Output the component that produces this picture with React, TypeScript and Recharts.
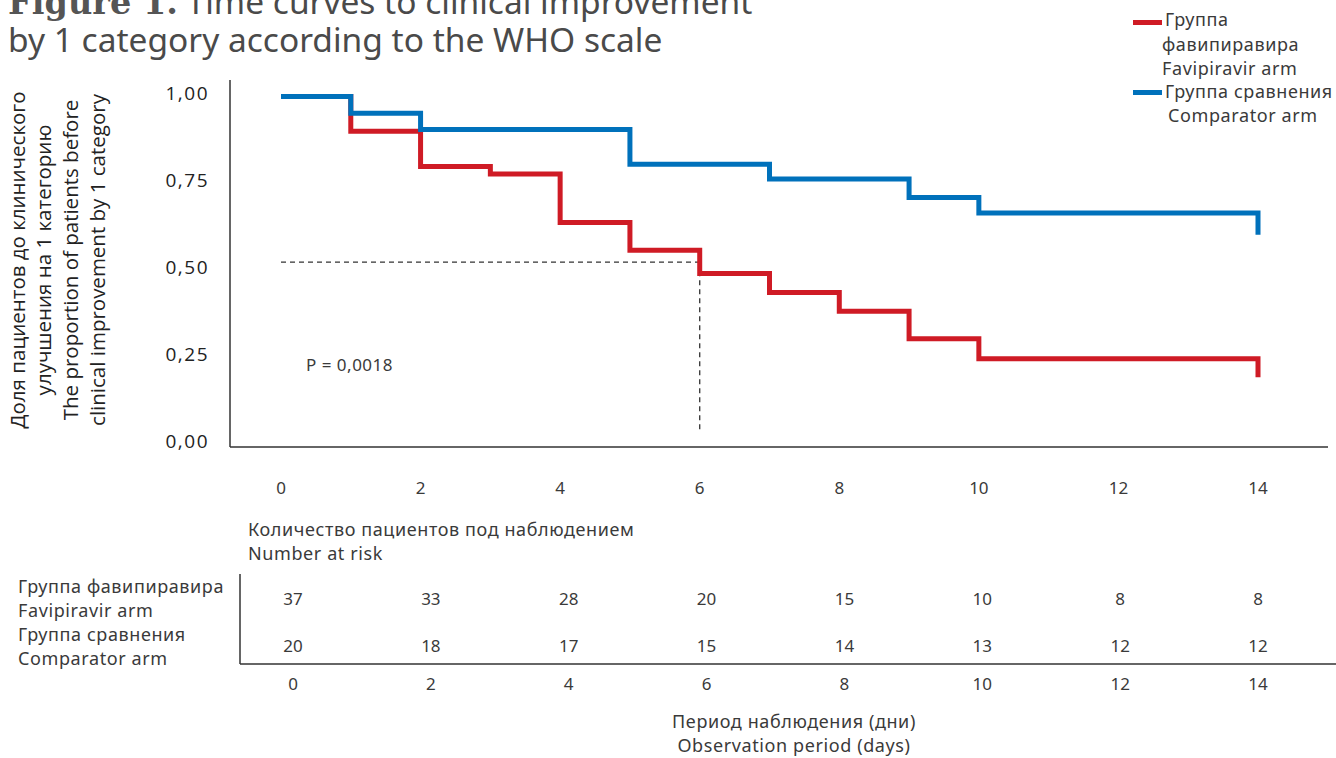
import { LineChart, Line, XAxis, YAxis, ReferenceLine, ScatterChart, Scatter } from 'recharts'

// days on the axis and the number-at-risk table
const dayTicks = [0, 2, 4, 6, 8, 10, 12, 14]
const yTicks = [0, 0.25, 0.5, 0.75, 1]

// Kaplan-Meier steps
const favDays = [0, 1, 2, 3, 4, 5, 6, 7, 8, 9, 10, 14]
const favValues = [0.99, 0.89, 0.789, 0.767, 0.628, 0.548, 0.481, 0.427, 0.373, 0.294, 0.236, 0.183]
const compDays = [0, 1, 2, 5, 7, 9, 10, 14]
const compValues = [0.99, 0.942, 0.895, 0.795, 0.753, 0.7, 0.655, 0.593]

// median marker (dashed guide)
const medianDay = 6
const medianValue = 0.514
const guideBottom = 0.029
const pLabel = 'P = 0,0018'

// number at risk
const arms = ['fav', 'comp']
const armLabels: Record<string, string[]> = {
  fav: ['Группа фавипиравира', 'Favipiravir arm'],
  comp: ['Группа сравнения', 'Comparator arm'],
}
const favAtRisk = [37, 33, 28, 20, 15, 10, 8, 8]
const compAtRisk = [20, 18, 17, 15, 14, 13, 12, 12]

const RED = '#cf1b25'
const BLUE = '#0071bb'
const TEXT = '#3a3a3a'
const FONT = '"Noto Sans", sans-serif'

const favData = favDays.map((d, i) => ({ day: d, value: favValues[i] }))
const compData = compDays.map((d, i) => ({ day: d, value: compValues[i] }))
const favRisk = dayTicks.map((d, i) => ({ day: d, n: favAtRisk[i], arm: arms[0] }))
const compRisk = dayTicks.map((d, i) => ({ day: d, n: compAtRisk[i], arm: arms[1] }))

const fmt = (v: number) => v.toFixed(2).replace('.', ',')

const YTick = ({ x, y, payload }: any) => (
  <text x={x} y={y} dy="0.35em" textAnchor="end" fill="#222" fontSize={19}
    fontFamily='"Open Sans", sans-serif' letterSpacing={1.5}>
    {fmt(payload.value)}
  </text>
)

const XTick = ({ x, y, payload }: any) => (
  <text x={x} y={y} dy="0.35em" textAnchor="middle" fill={TEXT} fontSize={17} fontFamily={FONT}>
    {payload.value}
  </text>
)

const ArmTick = ({ y, payload }: any) => {
  const lines = armLabels[payload.value] || []
  return (
    <text x={18} y={y} textAnchor="start" fill={TEXT} fontSize={18} letterSpacing={0.6} fontFamily={FONT}>
      <tspan x={18} dy="-0.3em">{lines[0]}</tspan>
      <tspan x={18} dy="1.33em">{lines[1]}</tspan>
    </text>
  )
}

const RiskCell = ({ cx, cy, payload }: any) => (
  <text x={cx} y={cy} dy="0.35em" textAnchor="middle" fill={TEXT} fontSize={17} fontFamily={FONT}>
    {payload.n}
  </text>
)

export default function App() {
  return (
    <div style={{ position: 'absolute', left: 0, top: 0, width: 1336, height: 758, background: '#fff', overflow: 'hidden' }}>
      <div style={{ position: 'absolute', left: 0, top: 0 }}>
        <LineChart width={1336} height={500} margin={{ top: 80, right: 8, bottom: 0, left: 170 }}>
          <XAxis
            type="number"
            dataKey="day"
            domain={[0, 14]}
            ticks={dayTicks}
            padding={{ left: 51, right: 70 }}
            height={53}
            tickSize={0}
            tickMargin={41}
            tick={<XTick />}
            axisLine={{ stroke: '#333', strokeWidth: 1.5 }}
            allowDuplicatedCategory={false}
          />
          <YAxis
            type="number"
            domain={[0, 1]}
            ticks={yTicks}
            padding={{ top: 13, bottom: 6 }}
            width={60}
            tickSize={0}
            tickMargin={21}
            tick={<YTick />}
            axisLine={{ stroke: '#333', strokeWidth: 1.5 }}
          />
          <ReferenceLine
            segment={[{ x: 0, y: medianValue }, { x: medianDay, y: medianValue }]}
            stroke="#333"
            strokeWidth={1.3}
            strokeDasharray="5 4"
          />
          <ReferenceLine
            segment={[{ x: medianDay, y: medianValue }, { x: medianDay, y: guideBottom }]}
            stroke="#333"
            strokeWidth={1.3}
            strokeDasharray="5 4"
          />
          <Line data={favData} dataKey="value" type="stepAfter" stroke={RED} strokeWidth={5}
            strokeLinejoin="miter" dot={false} activeDot={false} isAnimationActive={false} />
          <Line data={compData} dataKey="value" type="stepAfter" stroke={BLUE} strokeWidth={5}
            strokeLinejoin="miter" dot={false} activeDot={false} isAnimationActive={false} />
        </LineChart>
      </div>

      <div style={{ position: 'absolute', left: 0, top: 560 }}>
        <ScatterChart width={1336} height={150} margin={{ top: 14, right: 0, bottom: 0, left: 239 }}>
          <XAxis
            type="number"
            dataKey="day"
            domain={[0, 14]}
            ticks={dayTicks}
            padding={{ left: 53, right: 78 }}
            height={46}
            tickSize={0}
            tickMargin={20}
            tick={<XTick />}
            axisLine={{ stroke: '#333', strokeWidth: 1.5 }}
          />
          <YAxis
            type="category"
            dataKey="arm"
            domain={arms}
            allowDuplicatedCategory={false}
            interval={0}
            reversed
            padding={{ top: 1, bottom: -6 }}
            width={1}
            tickSize={0}
            tick={<ArmTick />}
            axisLine={{ stroke: '#333', strokeWidth: 1.5 }}
          />
          <Scatter data={favRisk} shape={<RiskCell />} isAnimationActive={false} />
          <Scatter data={compRisk} shape={<RiskCell />} isAnimationActive={false} />
        </ScatterChart>
      </div>

      <svg width={1336} height={758} style={{ position: 'absolute', left: 0, top: 0, pointerEvents: 'none' }}
        fontFamily={FONT} fill={TEXT} letterSpacing={0.6}>
        <text x={8} y={14} fontSize={33.5} fill="#4a4a4a" letterSpacing={0}>
          <tspan fontFamily='"DejaVu Serif", serif' fontWeight="bold" fill="#555">Figure 1.</tspan>
          <tspan> Time curves to clinical improvement</tspan>
        </text>
        <text x={8} y={52} fontSize={33.5} fill="#4a4a4a" letterSpacing={0}>by 1 category according to the WHO scale</text>

        <text transform="translate(58,260) rotate(-90)" textAnchor="middle" fontSize={20.5}
          fontFamily='"Open Sans", sans-serif' fill="#222" letterSpacing={0}>
          <tspan x={0} y={-33.5}>Доля пациентов до клинического</tspan>
          <tspan x={0} dy={26.7}>улучшения на 1 категорию</tspan>
          <tspan x={0} dy={26.7}>The proportion of patients before</tspan>
          <tspan x={0} dy={26.7}>clinical improvement by 1 category</tspan>
        </text>

        <text x={306} y={371} fontSize={17} letterSpacing={0.5}>{pLabel}</text>

        <text x={248} y={536} fontSize={18}>Количество пациентов под наблюдением</text>
        <text x={248} y={560} fontSize={18}>Number at risk</text>

        <text x={794} y={728} fontSize={18} textAnchor="middle">Период наблюдения (дни)</text>
        <text x={794} y={752} fontSize={18} textAnchor="middle">Observation period (days)</text>

        <rect x={1133} y={20} width={29} height={5} fill={RED} />
        <text x={1165} y={26} fontSize={18}>Группа</text>
        <text x={1162} y={51} fontSize={18}>фавипиравира</text>
        <text x={1162} y={75} fontSize={18}>Favipiravir arm</text>
        <rect x={1133} y={90} width={29} height={5} fill={BLUE} />
        <text x={1165} y={98} fontSize={18}>Группа сравнения</text>
        <text x={1168} y={122} fontSize={18}>Comparator arm</text>
      </svg>
    </div>
  )
}
